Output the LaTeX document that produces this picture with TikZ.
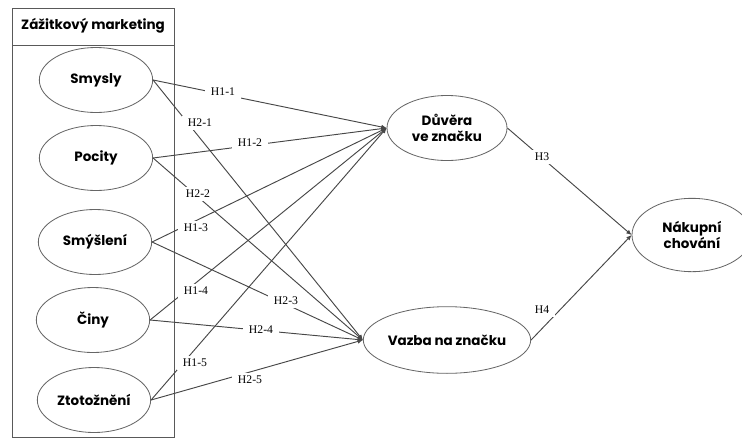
\documentclass[tikz,border=0pt]{standalone}
\usepackage{fontspec}
\usetikzlibrary{shapes.geometric, arrows.meta}
\newfontfamily\boxfont{Poppins}
\newfontfamily\hypfont{Liberation Serif}
\tikzset{
    conceptnode/.style={
        ellipse,
        draw=black!60, % šedý okraj
        line width=0.7pt,
        fill=white,
        minimum width=3.4cm,
        minimum height=1.95cm,
        inner sep=0,
        align=center,
        font=\boxfont\bfseries\fontsize{11.5}{14}\selectfont
    },
    hyplabel/.style={
        fill=white, % zakryje čáru pod popiskem
        inner xsep=5pt,
        inner ysep=3pt,
        font=\hypfont\fontsize{10}{12}\selectfont
    },
    pathline/.style={
        draw=black!72,
        line width=0.8pt,
        -{Latex[length=4.5pt,width=4pt]}
    }
}

\begin{document}
\begin{tikzpicture}[x=0.03cm, y=-0.03cm]
    \useasboundingbox (0,0) rectangle (742,439);
    % rámeček vlevo
    \draw[black!65, line width=0.7pt] (12,8) rectangle (174,437);
    \draw[black!65, line width=0.7pt] (12,45) -- (174,45);
    \node[font=\boxfont\bfseries\fontsize{11.5}{14}\selectfont] (title) at (93,26) {Zážitkový marketing};

    \node[conceptnode] (smysly) at (96,80) {Smysly};
    \node[conceptnode] (pocity) at (96,158) {Pocity};
    \node[conceptnode] (smysleni) at (95,242) {Smýšlení};
    \node[conceptnode] (ciny) at (93,320) {Činy};
    \node[conceptnode] (ztotozneni) at (94,400) {Ztotožnění};

    \node[conceptnode, minimum width=3.6cm] (duvera) at (447,128) {Důvěra\\ve značku};
    \node[conceptnode, minimum width=4cm, minimum height=2cm] (vazba) at (447,340) {Vazba na značku};
    \node[conceptnode, minimum width=3.6cm, minimum height=2.2cm] (nakupni) at (692,235) {Nákupní\\chování};

    % H1
    \draw[pathline] (smysly.east) -- (duvera.west);
    \draw[pathline] (pocity.east) -- (duvera.west);
    \draw[pathline] (smysleni.east) -- (duvera.west);
    \draw[pathline] (ciny.east) -- (duvera.west);
    \draw[pathline] (ztotozneni.east) -- (duvera.west);
    % H2
    \draw[pathline] (smysly.east) -- (vazba.west);
    \draw[pathline] (pocity.east) -- (vazba.west);
    \draw[pathline] (smysleni.east) -- (vazba.west);
    \draw[pathline] (ciny.east) -- (vazba.west);
    \draw[pathline] (ztotozneni.east) -- (vazba.west);
    % H3, H4
    \draw[pathline] (duvera.east) -- (nakupni.west);
    \draw[pathline] (vazba.east) -- (nakupni.west);

    \node[hyplabel] (h11) at (223,92) {H1-1};
    \node[hyplabel] (h21) at (200,123) {H2-1};
    \node[hyplabel] (h12) at (250,143) {H1-2};
    \node[hyplabel] (h22) at (198,194) {H2-2};
    \node[hyplabel] (h13) at (196,228) {H1-3};
    \node[hyplabel] (h14) at (196,291) {H1-4};
    \node[hyplabel] (h23) at (286,301) {H2-3};
    \node[hyplabel] (h24) at (261,330) {H2-4};
    \node[hyplabel] (h15) at (195,363) {H1-5};
    \node[hyplabel] (h25) at (250,380) {H2-5};
    \node[hyplabel] (h3) at (542,157) {H3};
    \node[hyplabel] (h4) at (542,310) {H4};
\end{tikzpicture}
\end{document}
